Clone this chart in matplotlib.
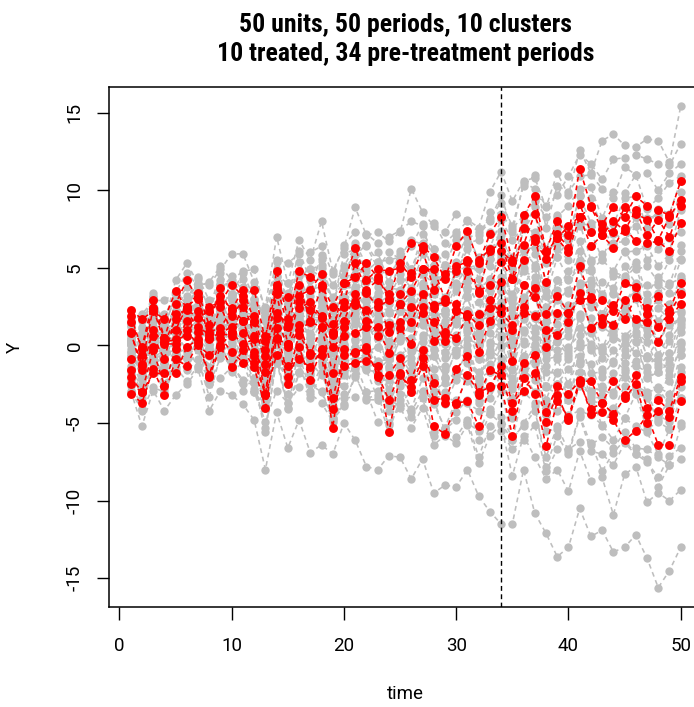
import matplotlib
matplotlib.use("Agg")
import matplotlib.pyplot as plt
from matplotlib import font_manager
import numpy as np

# ---------------------------------------------------------------------------
# Data: outcome Y for every unit over 50 periods
# ---------------------------------------------------------------------------
periods = list(range(1, 51))
treatment_period = 34

title_lines = ["50 units, 50 periods, 10 clusters",
               "10 treated, 34 pre-treatment periods"]
x_label = "time"
y_label = "Y"
x_ticks = [0, 10, 20, 30, 40, 50]
y_ticks = [-15, -10, -5, 0, 5, 10, 15]

# control (never-treated) units
control_y = [
    [1.3,-0.2,3.1,1.4,4.2,5.3,4.0,3.9,4.9,5.9, 5.9,4.1,2.5,7.0,4.0,6.8,5.5,8.0,4.8,6.3, 8.9,7.1,7.3,6.7,7.3,10.1,8.6,7.7,7.3,8.5, 8.1,7.6,9.9,11.2,9.3,10.6,10.8,8.9,11.1,9.7, 12.6,11.1,13.2,13.6,12.9,12.8,13.3,13.2,11.8,15.4],
    [1.5,2.0,2.9,2.9,3.4,4.7,3.8,4.1,5.1,4.2, 4.8,4.9,2.2,5.5,5.3,5.9,6.0,6.4,4.6,6.5, 7.3,7.2,6.6,7.0,7.4,8.0,7.7,7.9,6.6,7.3, 8.0,7.3,8.2,9.2,7.7,10.3,11.0,7.6,10.3,9.9, 10.9,11.0,10.1,9.5,11.5,11.0,11.1,10.0,11.1,11.7],
    [1.3,-0.6,1.1,1.3,3.1,2.3,3.9,2.3,4.7,3.3, 4.3,2.7,2.4,4.8,3.0,6.1,4.2,5.6,2.5,5.9, 6.2,6.4,5.0,6.0,5.6,6.4,7.8,5.2,5.9,7.1, 6.6,6.8,8.6,8.5,7.5,8.4,9.3,8.3,8.3,9.0, 10.1,10.2,8.2,9.9,9.8,11.0,8.8,9.5,10.5,10.9],
    [1.2,1.2,3.4,0.9,2.6,3.8,3.0,1.5,3.9,4.0, 2.9,3.0,1.6,3.7,3.4,4.6,4.9,4.4,3.1,4.1, 6.6,5.2,6.0,4.1,5.9,4.8,7.2,6.2,4.8,5.4, 7.3,5.5,6.3,8.1,6.8,7.6,8.9,6.1,8.4,6.9, 9.7,9.5,7.6,7.8,9.5,9.6,7.6,8.8,8.5,10.6],
    [0.1,-2.0,1.2,0.5,1.1,2.4,1.9,2.4,2.7,3.2, 2.3,2.8,0.3,4.9,1.9,4.6,2.7,5.0,2.5,3.9, 6.3,4.4,4.8,3.2,5.5,4.7,6.3,3.7,4.8,4.7, 6.2,4.3,7.3,6.8,5.7,8.0,7.1,6.2,6.5,7.5, 7.9,7.7,7.4,6.6,6.7,8.3,6.5,6.8,6.1,8.7],
    [0.2,0.6,1.8,1.7,1.8,3.2,3.8,1.2,2.7,3.0, 3.8,1.9,-0.5,4.4,2.5,3.4,3.6,3.8,0.9,4.5, 4.5,5.0,3.8,3.7,3.6,4.9,4.8,4.3,4.5,4.0, 5.0,4.9,5.1,5.5,5.0,6.1,7.3,3.9,6.2,5.5, 7.9,5.5,5.9,6.5,6.0,6.1,6.4,5.1,5.9,6.5],
    [0.4,-1.4,1.8,-0.2,2.0,1.4,2.6,1.8,2.1,2.1, 2.7,2.5,-0.6,2.7,2.2,3.7,2.1,2.6,1.7,3.9, 3.6,4.2,4.0,2.7,3.3,4.6,4.6,4.0,2.3,4.9, 4.3,3.8,5.6,5.4,3.1,6.2,6.3,3.2,5.7,4.3, 6.7,4.9,5.5,4.8,6.1,4.9,5.1,4.1,5.5,5.6],
    [-1.5,-0.9,-0.1,-0.3,0.1,2.0,1.5,0.1,2.9,1.4, 2.1,0.6,0.0,3.2,0.4,3.5,1.9,3.6,0.3,3.0, 4.6,2.5,3.4,2.1,4.2,2.9,4.6,2.4,3.1,3.8, 3.7,3.6,4.3,5.9,2.8,6.1,5.2,3.5,3.6,4.8, 5.5,5.4,3.3,4.5,4.3,5.1,2.8,3.4,4.0,4.3],
    [2.2,1.6,1.9,2.0,3.0,2.6,3.7,1.0,3.0,3.1, 1.9,2.0,0.3,2.9,2.4,2.5,2.7,2.9,1.5,2.0, 4.3,3.5,2.3,3.0,2.8,3.4,3.2,3.3,2.0,3.5, 4.5,2.1,4.3,3.9,3.3,4.8,4.4,3.2,2.9,3.6, 3.9,4.2,3.1,2.5,4.3,3.3,2.9,1.6,2.7,4.3],
    [-0.2,-0.1,1.9,-0.6,2.2,1.9,2.6,1.7,1.6,2.1, 1.5,0.4,-0.4,3.3,0.7,3.5,1.4,2.8,-0.4,2.7, 3.7,2.2,3.2,1.2,3.4,1.8,3.9,2.7,1.1,2.3, 3.7,2.8,2.9,4.4,1.9,5.0,3.6,2.4,3.2,2.2, 4.9,2.8,1.6,3.3,2.7,3.6,1.4,2.4,1.7,3.5],
    [-0.8,-2.6,-0.1,-0.6,-0.5,1.4,0.9,1.0,1.0,1.5, 2.0,-0.3,-1.1,1.7,1.2,2.0,1.8,1.5,0.7,1.5, 2.4,3.0,1.5,1.5,1.3,2.7,2.9,2.1,2.0,1.4, 3.1,0.8,3.5,3.5,2.4,3.1,4.1,1.1,3.1,1.5, 4.0,3.5,1.6,2.6,1.9,3.0,0.7,1.3,2.1,2.2],
    [0.7,0.8,1.2,0.7,2.3,1.3,2.4,0.4,2.6,0.7, 1.7,0.7,-2.3,2.6,-0.2,2.6,0.7,2.2,-1.3,1.6, 3.0,1.4,1.6,-0.1,2.2,1.3,3.3,0.6,1.1,1.7, 1.8,1.7,1.8,3.5,0.8,3.9,3.1,1.5,1.4,2.6, 2.9,2.5,2.0,0.9,2.2,1.6,1.8,0.3,1.3,1.6],
    [0.0,-2.2,0.9,-0.8,1.7,1.5,2.5,-0.1,2.4,2.3, 1.2,1.3,-0.2,2.1,0.9,1.7,2.1,1.9,0.3,1.0, 3.0,2.8,1.1,1.4,1.4,1.9,1.7,1.7,0.1,1.5, 1.4,0.9,2.7,2.1,1.2,2.3,3.4,-0.3,1.9,1.0, 3.5,1.1,1.2,0.7,2.3,1.4,1.0,-0.6,0.7,2.1],
    [-0.6,-0.5,0.6,0.4,0.5,1.6,0.7,0.6,1.0,1.2, 1.7,-0.4,-1.7,1.1,0.4,1.4,1.6,0.8,-0.2,1.1, 2.6,1.0,1.8,0.1,2.2,1.1,2.7,0.2,0.5,0.5, 2.3,0.1,2.0,1.4,0.4,2.8,1.8,0.3,0.3,1.3, 2.0,1.8,-0.2,1.4,0.6,1.3,-0.7,0.3,-0.5,1.7],
    [1.7,0.0,2.9,0.7,2.6,1.7,3.1,0.9,2.8,1.2, 2.0,1.5,-1.7,2.3,-0.5,2.3,0.5,2.2,-1.6,1.2, 1.6,1.8,-0.1,0.3,0.4,1.5,1.3,0.5,0.3,0.2, 2.0,-0.7,1.4,1.3,0.2,0.9,2.0,0.1,0.2,0.6, 1.1,1.2,-0.4,0.7,0.1,0.9,0.2,-1.4,-0.5,0.1],
    [-1.6,-2.6,-1.5,-1.4,-0.8,1.0,-0.1,-0.5,-0.1,0.9, -0.1,0.1,-2.1,0.4,0.1,1.0,0.8,0.5,-0.5,0.5, 2.3,0.7,1.4,-0.8,1.0,-0.2,2.0,-0.3,-0.4,-0.5, 0.4,0.1,0.0,1.6,-1.0,1.7,0.5,-0.5,0.3,-0.7, 1.9,-0.1,-0.2,-1.1,0.4,-0.5,-0.8,-0.9,-1.6,0.9],
    [0.1,0.0,0.3,0.1,1.4,0.7,1.4,0.4,0.5,1.1, -0.4,-0.2,-1.9,0.5,-0.6,0.1,0.5,0.4,-1.0,-0.4, 1.7,0.4,0.8,-1.5,0.5,0.5,0.2,-0.2,-1.6,0.3, -0.4,-0.9,-0.4,1.4,-1.6,1.0,0.1,-0.9,-0.7,-0.3, -0.1,0.1,-1.5,-0.3,-1.1,0.3,-2.0,-1.7,-1.1,-0.6],
    [-0.4,-2.1,0.4,-1.7,0.8,0.7,1.8,-0.7,1.4,0.2, 0.9,0.4,-2.8,1.5,-1.1,1.5,-0.8,0.7,-2.4,0.6, 0.3,0.4,-1.2,-0.6,-0.6,-0.1,-0.5,-0.6,-2.1,-0.3, 0.0,-2.1,0.2,0.0,-1.5,-0.7,0.9,-2.6,-0.9,-2.5, 0.2,-1.8,-1.7,-2.2,-0.6,-1.3,-1.7,-3.3,-1.9,-0.2],
    [-3.0,-4.1,-0.8,-2.8,-0.7,-0.9,0.4,-1.5,0.8,-0.7, 0.2,-1.4,-4.0,0.9,-2.0,0.6,-1.6,0.0,-3.1,-0.1, -0.1,0.1,-1.6,-0.9,-1.3,-0.8,0.5,-2.3,-2.0,-1.9, -0.3,-2.3,-0.3,-0.8,-2.1,-1.3,0.0,-2.6,-2.5,-1.5, -1.0,-1.2,-3.2,-1.8,-2.0,-1.0,-3.2,-2.7,-3.1,-0.6],
    [0.7,-0.7,0.1,-0.5,-0.3,1.4,0.4,-0.3,-0.4,0.1, -0.8,-0.5,-3.5,0.6,-2.4,0.1,-0.4,-1.0,-2.8,-1.9, 0.4,-1.3,-1.2,-2.8,-0.7,-1.8,-0.2,-2.9,-2.4,-1.8, -1.9,-2.1,-1.7,-0.1,-3.4,-0.7,-1.2,-2.7,-3.1,-2.5, -0.7,-3.0,-2.6,-3.0,-1.7,-2.6,-3.0,-2.8,-3.8,-1.4],
    [-1.8,-2.0,0.1,-2.5,-0.2,-0.4,0.6,-2.0,0.1,-1.5, -0.2,-2.1,-3.6,-1.1,-1.8,-1.0,-1.1,-1.9,-3.1,-1.5, -1.4,-0.6,-2.3,-2.2,-2.6,-1.6,-1.4,-2.0,-3.8,-2.2, -1.1,-3.5,-1.7,-1.9,-2.6,-1.9,-1.0,-4.5,-2.5,-3.5, -1.2,-3.3,-3.4,-4.2,-2.6,-3.1,-3.4,-4.8,-3.9,-3.4],
    [-1.5,-3.4,-0.9,-1.7,-1.6,-0.1,-1.4,-1.8,-0.3,-1.5, -0.5,-2.8,-3.9,-1.1,-2.1,-1.7,-1.9,-1.0,-4.7,-1.7, -1.5,-1.5,-1.8,-3.8,-2.1,-3.0,-0.9,-3.4,-3.2,-3.7, -2.0,-3.7,-3.4,-1.8,-4.7,-1.9,-3.0,-4.5,-3.3,-4.7, -2.6,-3.1,-5.2,-4.0,-4.7,-3.1,-5.4,-4.9,-5.4,-3.4],
    [-1.6,-1.8,-0.8,-1.1,-0.4,-0.9,0.2,-2.1,0.2,-1.7, -1.1,-3.0,-4.0,-0.9,-3.7,-1.1,-3.4,-1.7,-3.9,-3.1, -1.1,-3.0,-2.9,-4.2,-2.5,-4.1,-2.1,-3.8,-5.3,-3.5, -3.7,-4.2,-4.3,-2.9,-6.1,-3.0,-3.7,-5.5,-5.4,-4.5, -4.2,-4.5,-5.1,-6.1,-4.7,-5.2,-5.6,-7.0,-5.4,-5.0],
    [-2.2,-4.1,-1.2,-3.1,-0.9,-1.6,-0.9,-3.3,-0.6,-1.3, -2.2,-2.3,-5.6,-0.8,-4.0,-1.7,-2.5,-3.0,-4.8,-3.9, -2.0,-3.4,-3.2,-5.1,-3.1,-4.3,-2.9,-5.6,-5.4,-4.8, -5.0,-5.5,-4.1,-4.6,-5.9,-5.2,-4.2,-7.2,-5.2,-6.8, -4.5,-6.4,-5.9,-6.6,-5.6,-6.6,-6.7,-7.2,-7.7,-5.2],
    [-2.4,-4.2,-2.7,-3.0,-1.4,-2.3,-1.3,-2.5,-2.1,-1.4, -2.9,-3.0,-4.9,-2.9,-3.7,-2.7,-3.1,-3.7,-4.9,-3.4, -3.3,-3.0,-4.9,-5.0,-4.0,-5.3,-4.0,-6.4,-5.8,-6.3, -5.1,-7.6,-5.8,-5.1,-8.4,-5.8,-7.2,-8.6,-8.0,-9.4, -6.8,-8.7,-8.5,-10.9,-8.3,-7.8,-10.1,-9.5,-10.0,-9.3],
    [-2.9,-5.2,-2.9,-4.2,-3.2,-2.5,-1.5,-4.2,-2.9,-3.2, -3.8,-4.8,-8.0,-4.3,-6.6,-4.8,-6.9,-6.4,-7.0,-5.0, -6.1,-7.8,-8.0,-7.1,-7.2,-8.6,-7.3,-9.5,-9.0,-9.1, -8.0,-9.7,-10.7,-11.5,-11.5,-8.0,-10.8,-12.1,-13.6,-13.0, -10.5,-12.3,-11.9,-13.3,-13.0,-12.2,-13.7,-15.6,-14.5,-13.0],
    [0.8,1.1,3.2,1.1,3.3,2.9,4.4,2.9,3.5,4.5, 3.5,3.8,1.0,5.4,2.5,5.4,3.7,5.8,2.6,5.1, 6.4,4.8,5.4,4.1,6.1,4.9,6.6,4.7,5.2,4.7, 6.6,5.7,5.9,7.4,4.9,8.0,7.1,5.6,5.7,6.8, 7.7,7.3,5.6,7.3,6.7,7.7,5.5,6.2,6.9,7.3],
    [0.3,-1.4,1.7,1.1,1.4,2.6,2.1,2.3,2.7,3.3, 2.1,2.5,0.4,3.1,2.7,3.3,3.2,3.1,2.2,3.1, 5.0,3.4,2.7,3.2,3.4,4.4,4.0,3.5,2.2,3.9, 4.1,3.8,4.1,5.7,2.4,5.4,5.9,2.5,4.2,3.4, 6.1,3.9,4.1,3.7,5.1,4.0,3.9,3.9,3.4,5.5],
    [0.5,0.8,1.5,1.0,1.2,2.9,2.2,1.5,1.5,2.1, 2.6,0.6,-0.5,2.5,1.6,2.0,2.2,2.2,0.9,3.1, 2.7,3.0,2.9,1.0,2.6,1.9,3.8,1.0,1.6,1.7, 3.2,0.7,2.9,2.7,2.0,3.0,4.0,0.7,3.2,1.8, 3.3,3.5,2.0,3.4,2.7,3.9,2.3,2.9,2.0,4.5],
    [0.3,-1.6,1.0,-1.1,1.0,1.0,2.2,-0.2,1.9,0.5, 1.8,0.6,-2.3,2.2,-0.4,2.4,0.2,1.5,-1.5,1.4, 2.1,0.5,1.2,0.2,0.3,1.2,1.4,1.0,-0.8,0.7, 0.9,0.7,1.3,2.8,0.0,2.7,1.9,0.6,0.9,2.0, 3.0,1.2,1.5,1.0,2.4,1.5,1.1,0.3,1.4,1.7],
    [0.1,0.1,0.5,0.4,1.9,1.3,2.1,1.2,1.5,1.7, 0.6,1.1,-2.2,1.9,-1.0,1.8,0.5,0.3,-1.1,0.0, 2.0,0.3,0.5,-1.3,0.9,0.1,1.8,-0.7,-0.5,-0.6, 1.1,-0.9,1.3,0.7,-0.6,0.3,1.8,-1.3,0.6,-0.5, 1.8,-0.3,-0.1,0.5,0.1,1.3,-0.7,-1.2,0.3,1.4],
    [-0.7,-1.4,-0.7,-0.4,-0.2,1.0,0.0,-0.4,1.3,-0.2, 0.6,-1.0,-2.1,0.0,-1.1,-0.1,0.1,-0.6,-2.2,-0.1, -0.4,0.1,-1.0,-0.9,-1.1,-0.4,-0.6,-0.7,-2.1,-0.3, -0.9,-1.7,-1.2,0.5,-2.8,0.1,-0.2,-1.7,-1.8,-0.9, 0.0,-0.1,-2.0,-1.0,-1.5,0.2,-2.1,-1.7,-2.3,0.2],
    [0.0,-1.9,0.9,-1.2,0.8,-0.3,0.8,-1.4,0.7,0.5, -0.6,-0.7,-4.0,0.7,-2.2,0.0,-1.8,0.2,-3.3,-0.8, -0.9,-0.7,-1.1,-3.1,-1.2,-2.1,-0.2,-3.0,-3.0,-1.9, -2.3,-2.7,-2.8,-1.5,-4.5,-1.6,-2.2,-3.9,-4.2,-3.5, -1.7,-3.6,-3.7,-4.5,-3.4,-2.7,-5.1,-4.5,-4.9,-2.7],
    [-2.6,-2.6,-0.6,-2.6,-0.1,-0.6,0.1,-2.3,0.3,-1.0, -0.4,-2.4,-3.7,0.1,-3.1,-0.6,-2.9,-1.3,-3.4,-2.6, -1.1,-1.6,-3.4,-3.6,-3.8,-2.9,-3.0,-3.5,-5.5,-4.3, -3.5,-6.1,-4.4,-5.0,-6.1,-5.0,-3.9,-7.8,-5.8,-7.0, -4.6,-6.8,-7.0,-7.7,-6.3,-7.0,-7.3,-9.1,-7.7,-7.3],
    [0.4,-1.3,0.8,0.8,0.9,2.7,2.2,1.5,1.9,2.9, 2.1,2.0,0.6,3.1,2.8,3.5,3.6,3.3,2.2,3.0, 5.4,4.1,4.6,3.0,4.6,3.7,5.9,4.4,3.0,4.9, 5.0,5.2,5.6,7.1,4.4,7.5,8.5,5.3,7.5,6.8, 9.6,7.9,8.0,7.2,8.9,8.3,8.2,8.4,7.8,9.9],
    [0.8,0.7,1.6,1.6,3.3,2.7,4.3,2.2,4.2,3.3, 4.7,3.0,1.9,4.5,4.0,4.5,4.9,5.2,3.9,4.9, 5.8,6.5,5.4,5.5,5.7,6.8,6.5,6.2,5.2,6.8, 7.0,7.1,8.0,9.7,7.3,10.5,10.1,9.0,9.7,10.9, 12.3,11.7,10.7,12.0,12.1,12.3,12.0,11.7,11.6,13.0],
    [-0.4,-2.0,0.5,-1.7,0.8,1.7,0.8,0.9,1.2,1.5, 0.9,1.3,-1.5,2.8,0.0,3.0,1.5,2.8,-0.3,3.1, 3.8,2.2,2.6,2.2,2.3,3.3,3.3,1.7,2.3,2.3, 3.6,1.5,4.0,3.8,3.0,3.9,5.0,2.1,4.2,4.2, 5.0,4.8,3.2,4.7,4.5,5.4,3.3,4.4,3.9,6.1],
    [0.2,0.2,0.7,0.2,0.6,2.3,1.1,0.4,1.1,1.4, 0.0,0.2,-2.5,1.6,-1.1,1.4,-1.0,0.8,-2.5,0.1, 1.4,-0.4,-0.1,-1.4,0.4,-1.1,0.7,-1.5,-1.3,-1.7, -0.4,-2.5,-0.6,-1.1,-2.4,-1.9,-0.6,-3.5,-1.7,-3.3, -1.0,-2.9,-2.8,-3.2,-2.0,-2.8,-3.1,-4.6,-3.5,-1.7],
    [-1.3,-3.1,-0.3,-2.5,-0.7,-1.4,-0.3,-2.5,-0.8,-1.0, -2.5,-2.4,-5.3,-1.0,-4.1,-1.8,-2.4,-2.9,-4.7,-3.8, -1.9,-3.5,-3.5,-5.5,-3.5,-4.6,-3.4,-5.8,-5.3,-5.9, -4.8,-7.2,-5.2,-5.5,-6.7,-6.1,-5.1,-8.1,-6.7,-6.7, -6.2,-6.3,-8.1,-6.9,-6.1,-7.0,-7.5,-8.5,-7.1,-6.6],
    [-0.8,-0.3,1.2,-0.7,1.8,1.3,1.9,-0.2,2.2,0.9, 1.7,0.1,-0.7,2.0,1.1,1.5,1.8,1.8,0.7,1.3, 3.0,1.5,2.1,1.1,1.3,2.1,1.7,1.3,0.1,1.5, 1.0,0.5,0.8,2.4,-0.7,1.9,1.1,-0.2,-0.3,-0.1, 0.7,0.8,-0.8,0.4,-0.3,0.7,-1.4,-0.6,-0.9,1.2],
]

# treated units (treatment starts after period 34)
treated_y = [
    [1.5,-0.1,2.9,0.5,2.7,4.2,3.0,2.5,2.8,3.9, 3.2,3.6,0.3,4.8,1.7,4.8,4.4,3.9,2.5,4.0, 6.3,4.2,4.9,4.8,5.0,6.6,6.4,5.7,4.3,6.4, 7.4,5.3,7.2,8.3,5.5,8.4,9.6,6.1,8.0,7.1, 11.4,9.0,7.8,8.9,8.3,9.6,9.0,8.7,8.4,10.6],
    [-0.9,-0.6,0.6,-0.9,2.0,2.3,1.8,2.2,3.2,2.3, 3.6,1.6,0.6,3.7,3.1,3.2,3.6,4.6,0.7,4.0, 4.4,5.3,4.4,3.0,5.3,4.4,6.2,3.6,4.6,5.1, 5.4,5.5,6.2,6.1,5.4,6.5,8.5,6.0,6.9,7.7, 8.3,8.9,7.5,7.3,8.9,8.5,8.1,6.8,8.3,9.4],
    [0.8,-1.2,2.4,0.5,1.0,2.5,3.1,0.4,2.5,0.9, 2.5,1.5,-1.2,3.9,1.2,3.9,1.6,3.8,1.4,2.8, 5.3,3.6,4.2,3.3,3.3,4.7,4.9,4.9,3.0,4.8, 5.5,3.4,6.1,6.6,4.3,7.6,6.7,5.6,7.2,6.3, 9.1,7.3,7.1,8.0,7.4,8.7,7.1,8.1,7.0,9.0],
    [-1.6,-1.3,-0.1,0.2,0.4,0.6,2.2,0.9,1.1,2.4, 1.6,1.9,-0.7,2.1,1.4,2.4,2.8,1.8,0.9,2.5, 2.8,3.4,2.5,2.9,2.7,3.5,4.9,2.6,2.8,2.7, 4.8,3.5,3.9,5.4,4.3,5.5,6.9,4.1,6.9,6.0, 8.3,6.4,7.1,6.3,7.6,6.7,6.6,6.7,6.1,7.9],
    [2.3,1.7,2.2,1.7,3.5,2.4,3.4,1.3,3.7,1.9, 2.9,0.6,-0.3,3.3,0.1,2.8,2.3,1.9,0.8,1.6, 3.3,1.6,2.8,0.9,2.7,1.5,3.3,2.4,0.7,2.3, 1.9,2.0,2.4,4.1,1.0,3.9,3.1,2.0,3.2,2.1, 5.1,3.0,2.9,2.2,4.0,3.8,2.0,3.2,2.3,4.0],
    [-2.5,-3.0,-0.3,-2.6,-0.2,1.0,0.0,-0.6,0.0,0.8, 0.1,0.4,-3.1,1.8,-0.1,1.0,1.5,1.2,-0.1,0.6, 2.6,2.3,0.6,1.3,1.5,2.5,2.1,1.5,0.3,2.2, 2.0,1.3,2.9,2.1,1.3,2.5,3.7,-0.1,2.1,2.1, 2.9,3.1,1.4,2.6,1.7,3.1,2.4,1.2,2.1,3.3],
    [0.9,-1.6,1.0,0.1,0.1,1.6,1.2,0.7,0.8,1.2, 1.6,-0.4,-1.7,0.4,0.1,1.3,-0.6,1.2,-1.8,1.2, 0.8,1.2,1.2,-0.5,1.1,0.1,2.5,0.3,0.9,0.5, 1.9,-0.4,1.6,2.4,-1.0,2.1,1.9,1.0,0.7,1.5, 3.4,1.1,1.8,1.3,2.9,1.7,1.5,0.2,1.7,2.7],
    [-3.1,-3.7,-1.5,-3.2,-0.9,-1.3,0.2,-2.0,-0.1,-1.4, -0.3,-1.4,-4.0,0.5,-2.5,-0.1,-2.2,-0.2,-3.4,-0.6, -0.5,-0.1,-2.0,-1.9,-0.8,-2.2,-0.3,-2.4,-3.7,-1.5, -0.7,-3.2,-1.6,-1.9,-4.2,-1.1,-0.6,-4.3,-2.6,-3.1, -2.3,-2.3,-3.7,-2.3,-3.2,-1.9,-4.0,-3.5,-4.2,-2.0],
    [-2.0,-3.0,-1.8,-1.8,-1.8,-0.1,0.4,-1.9,0.5,-0.4, -1.1,-0.7,-3.2,-0.6,-1.3,-0.9,-1.4,-0.3,-4.1,-1.3, -1.1,-1.0,-1.3,-5.6,-1.9,-2.7,-0.8,-3.5,-3.4,-3.8, -1.9,-3.0,-2.7,-1.3,-3.7,-2.9,-1.8,-4.9,-3.2,-4.8, -2.4,-4.1,-3.7,-4.4,-3.4,-2.5,-5.0,-4.2,-4.6,-2.3],
    [1.9,-0.2,2.4,0.2,1.7,2.4,0.9,0.5,0.8,0.6, 0.8,-1.1,-3.1,1.1,-2.0,0.7,-0.5,-0.6,-5.3,-0.2, -0.4,-0.3,-1.9,-3.5,-1.8,-3.0,-1.3,-5.2,-5.7,-3.7, -3.6,-5.2,-2.6,-2.6,-5.8,-2.1,-3.1,-6.5,-3.6,-4.6, -2.2,-4.4,-4.3,-4.8,-6.1,-5.5,-4.5,-6.4,-6.4,-3.6],
]

# ---------------------------------------------------------------------------
# Fonts
# ---------------------------------------------------------------------------
available = {f.name for f in font_manager.fontManager.ttflist}


def first_font(candidates):
    for name in candidates:
        if name in available:
            return name
    return "DejaVu Sans"


body_font = first_font(["Roboto", "Liberation Sans", "DejaVu Sans"])
title_font = first_font(["Roboto Condensed", "Liberation Sans Narrow", "Roboto"])
plt.rcParams["font.family"] = [body_font, "DejaVu Sans"]

# ---------------------------------------------------------------------------
# Figure / axes geometry (pixels)
# ---------------------------------------------------------------------------
W, H = 694, 707
fig = plt.figure(figsize=(W / 100, H / 100), dpi=100)
fig.patch.set_facecolor("white")

px_left, px_right, px_top, px_bottom = 108.7, 702.7, 87.2, 606.9
ax = fig.add_axes([px_left / W, 1 - px_bottom / H,
                   (px_right - px_left) / W, (px_bottom - px_top) / H])

GREY = "#BEBEBE"
RED = "#FF0000"
dash = (0, (3.0, 2.4))

for ys in control_y:
    ax.plot(periods, ys, color=GREY, lw=1.15, linestyle=dash,
            marker="o", markersize=6.0, markeredgewidth=0, zorder=2)
for ys in treated_y:
    ax.plot(periods, ys, color=RED, lw=1.15, linestyle=dash,
            marker="o", markersize=6.4, markeredgewidth=0, zorder=3)

ax.axvline(treatment_period, color="black", lw=1.0, linestyle=(0, (3.5, 2.5)),
           zorder=4)

# axis ranges padded by 4% like base R graphics
all_y = np.concatenate([np.ravel(control_y), np.ravel(treated_y)])
y_lo, y_hi = all_y.min(), all_y.max()
y_pad = 0.04 * (y_hi - y_lo)
x_lo, x_hi = min(periods), max(periods)
x_pad = 0.04 * (x_hi - x_lo)
ax.set_xlim(x_lo - x_pad, x_hi + x_pad)
ax.set_ylim(y_lo - y_pad, y_hi + y_pad)

ax.set_xticks(x_ticks)
ax.set_yticks(y_ticks)
ax.set_xticklabels([str(v) for v in x_ticks])
ax.set_yticklabels([str(v) for v in y_ticks], rotation=90, va="center")
ax.tick_params(axis="both", direction="out", length=9, width=1.0,
               labelsize=13.5, colors="black")
ax.tick_params(axis="x", pad=13)
ax.tick_params(axis="y", pad=9)

for sp in ax.spines.values():
    sp.set_linewidth(1.1)
    sp.set_color("black")

ax.set_xlabel(x_label, fontsize=13.5)
ax.xaxis.label.set_va("center")
ax.xaxis.set_label_coords((405 - px_left) / (px_right - px_left),
                          (px_bottom - 694) / (px_bottom - px_top))
ax.set_ylabel(y_label, fontsize=13.5)
ax.yaxis.label.set_va("center")
ax.yaxis.set_label_coords((15 - px_left) / (px_right - px_left), 0.5)

# two-line bold title centred over the plotting region
cx = (px_left + px_right) / 2 / W
title_kw = dict(ha="center", va="baseline", fontsize=18.5, fontweight="bold",
                family=[title_font, "DejaVu Sans"])
fig.text(cx, 1 - 32.3 / H, title_lines[0], **title_kw)
fig.text(cx, 1 - 61.0 / H, title_lines[1], **title_kw)

fig.savefig("out.png", dpi=100, facecolor="white")
